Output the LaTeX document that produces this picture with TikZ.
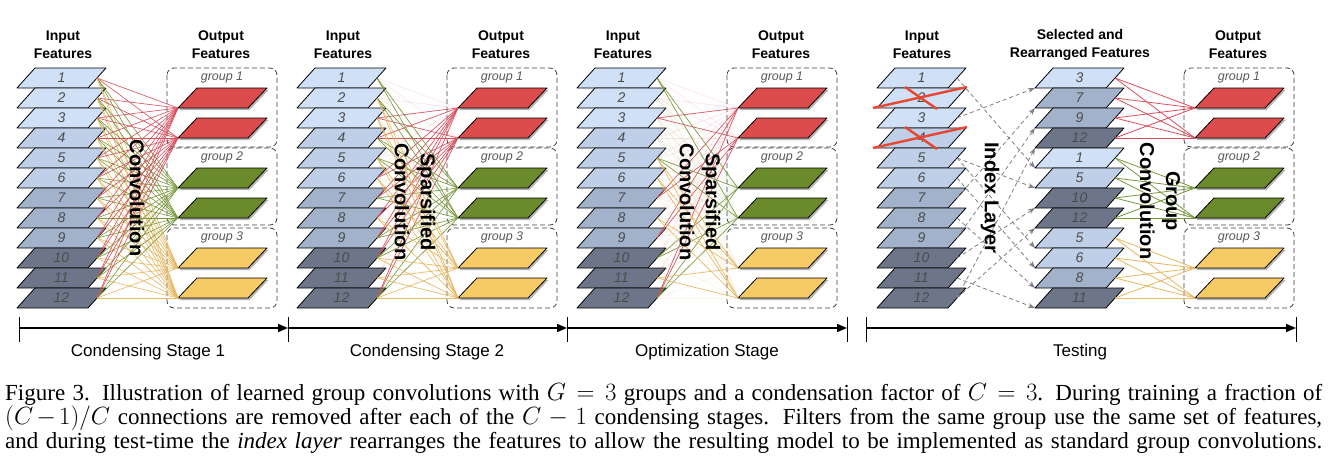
\documentclass[tikz,border=0pt]{standalone}
\usepackage{fontspec}
\setmainfont{Liberation Serif}
\setsansfont{Liberation Sans}
\usetikzlibrary{arrows.meta}
\definecolor{inA}{RGB}{208,225,247}
\definecolor{inB}{RGB}{190,207,231}
\definecolor{inC}{RGB}{162,178,202}
\definecolor{inD}{RGB}{108,118,136}
\definecolor{fR}{RGB}{220,76,76}
\definecolor{fG}{RGB}{106,138,44}
\definecolor{fY}{RGB}{246,203,102}
\definecolor{cR}{RGB}{216,78,92}
\definecolor{cG}{RGB}{120,152,60}
\definecolor{cY}{RGB}{230,184,96}
\definecolor{xR}{RGB}{232,70,48}
\tikzset{
  featlayer/.style={draw=black, line width=0.8pt, line join=round},
  shadowlayer/.style={fill=black!30},
  numlab/.style={font=\sffamily\itshape\fontsize{14}{14}\selectfont, text=black!70, inner sep=0pt},
  headtext/.style={font=\sffamily\bfseries\fontsize{14}{18}\selectfont, align=center},
  rottext/.style={font=\sffamily\bfseries\fontsize{20}{26}\selectfont, align=center, rotate=-90},
  grpbox/.style={draw=black!75, dash pattern=on 5pt off 3pt, line width=0.8pt, rounded corners=7pt},
  grplab/.style={font=\sffamily\itshape\fontsize{12.5}{12.5}\selectfont, text=black!65, inner sep=0pt},
  conn/.style={line width=0.6pt},
  gconn/.style={line width=0.8pt},
  faded/.style={line width=0.6pt, opacity=0.15},
  idxarrow/.style={draw=black!50, line width=0.8pt, dash pattern=on 4pt off 3pt, -{Stealth[length=7pt,width=5pt]}},
  tlarrow/.style={line width=1.6pt, -{Triangle[length=10pt,width=8pt]}},
  tickline/.style={line width=1pt},
  tlab/.style={font=\sffamily\fontsize{17}{17}\selectfont},
  captext/.style={font=\fontsize{23}{24}\selectfont, anchor=north west, inner sep=0pt, align=left},
}
\newcommand\inlayer[4]{%
  \pgfmathsetmacro\yb{88+(#3-1)*20}%
  \pgfmathtruncatemacro\cls{int((#4-1)/3)}%
  \ifcase\cls \def\fc{inA}\or\def\fc{inB}\or\def\fc{inC}\or\def\fc{inD}\fi
  \path[featlayer, fill=\fc] (#2+17,\yb) -- ++(71,0) -- ++(18,-20) -- ++(-71,0) -- cycle;
  \node[numlab] (#1-n) at (#2+61.5,\yb-10) {#4};
  \coordinate (#1-R) at (#2+97,\yb-10);
  \coordinate (#1-L) at (#2+17,\yb);
}
\newcommand\outlayer[4]{%
  \path[shadowlayer] (#2+179.5,#3+2) -- ++(70,0) -- ++(19,-20) -- ++(-70,0) -- cycle;
  \path[featlayer, fill=#4] (#2+178,#3) -- ++(70,0) -- ++(19,-20) -- ++(-70,0) -- cycle;
  \coordinate (#1) at (#2+178,#3);
}
\newcommand\outblock[2]{%
  \draw[grpbox] (#2+167,68) rectangle (#2+277,147);
  \draw[grpbox] (#2+167,148) rectangle (#2+277,225);
  \draw[grpbox] (#2+167,228) rectangle (#2+277,308);
  \node[grplab] (#1-g1) at (#2+222,77) {group 1};
  \node[grplab] (#1-g2) at (#2+222,157) {group 2};
  \node[grplab] (#1-g3) at (#2+222,237) {group 3};
  \outlayer{#1-out1}{#2}{108}{fR}
  \outlayer{#1-out2}{#2}{138}{fR}
  \outlayer{#1-out3}{#2}{188}{fG}
  \outlayer{#1-out4}{#2}{218}{fG}
  \outlayer{#1-out5}{#2}{268}{fY}
  \outlayer{#1-out6}{#2}{298}{fY}
}
\begin{document}
\begin{tikzpicture}[x=1pt,y=-1pt]
\useasboundingbox (0,0) rectangle (1330,472);
\fill[white] (0,0) rectangle (1330,472);
% ---------- training stages ----------
\foreach \ox/\s in {0/1,280/2,560/3}{
  \node[headtext] (s\s-hin) at (\ox+63,45) {Input\\Features};
  \node[headtext] (s\s-hout) at (\ox+221,45) {Output\\Features};
  \foreach \i in {1,...,12}{\inlayer{s\s-in\i}{\ox}{\i}{\i}}
  \outblock{s\s}{\ox}
}
% stage 1: all connections
\foreach \i in {1,...,12}{
  \foreach \j/\c in {1/cR,2/cR,3/cG,4/cG,5/cY,6/cY}{
    \draw[conn,color=\c] (s1-in\i-R) -- (s1-out\j);
  }
}
% stage 2
\foreach \i in {1,...,12}{
  \foreach \j/\c in {1/cR,2/cR,3/cG,4/cG,5/cY,6/cY}{
    \draw[faded,color=\c] (s2-in\i-R) -- (s2-out\j);
  }
}
\foreach \i in {3,4,6,7,8,9,10,12}{\foreach \j in {1,2}{\draw[conn,color=cR] (s2-in\i-R) -- (s2-out\j);}}
\foreach \i in {1,2,4,5,7,9,10,12}{\foreach \j in {3,4}{\draw[conn,color=cG] (s2-in\i-R) -- (s2-out\j);}}
\foreach \i in {2,3,5,6,8,10,11,12}{\foreach \j in {5,6}{\draw[conn,color=cY] (s2-in\i-R) -- (s2-out\j);}}
% stage 3
\foreach \i in {1,...,12}{
  \foreach \j/\c in {1/cR,2/cR,3/cG,4/cG,5/cY,6/cY}{
    \draw[faded,color=\c] (s3-in\i-R) -- (s3-out\j);
  }
}
\foreach \i in {3,7,9,12}{\foreach \j in {1,2}{\draw[conn,color=cR] (s3-in\i-R) -- (s3-out\j);}}
\foreach \i in {1,5,10,12}{\foreach \j in {3,4}{\draw[conn,color=cG] (s3-in\i-R) -- (s3-out\j);}}
\foreach \i in {5,6,8,11}{\foreach \j in {5,6}{\draw[conn,color=cY] (s3-in\i-R) -- (s3-out\j);}}
% ---------- testing ----------
\node[headtext] (t-hin) at (922,45) {Input\\Features};
\node[headtext] (t-hmid) at (1080,45) {Selected and\\Rearranged Features};
\node[headtext] (t-hout) at (1238,45) {Output\\Features};
\foreach \i in {1,...,12}{\inlayer{t-in\i}{860}{\i}{\i}}
\foreach \k/\n in {1/3,2/7,3/9,4/12,5/1,6/5,7/10,8/12,9/5,10/6,11/8,12/11}{\inlayer{mid\k}{1018}{\k}{\n}}
\outblock{t}{1017}
% crosses on removed features
\foreach \yb in {108,148}{
  \draw[xR, line width=2.4pt] (873,\yb) -- (967,\yb-21);
  \draw[xR, line width=2.4pt] (905,\yb-21) -- (937,\yb+1);
}
% index layer
\foreach \k/\n in {1/3,2/7,3/9,4/12,5/1,6/5,7/10,8/12,9/5,10/6,11/8,12/11}{
  \draw[idxarrow] (t-in\n-R) -- (mid\k-L);
}
% group convolution
\foreach \k in {1,...,4}{\foreach \j in {1,2}{\draw[gconn,color=cR] (mid\k-R) -- (t-out\j);}}
\foreach \k in {5,...,8}{\foreach \j in {3,4}{\draw[gconn,color=cG] (mid\k-R) -- (t-out\j);}}
\foreach \k in {9,...,12}{\foreach \j in {5,6}{\draw[gconn,color=cY] (mid\k-R) -- (t-out\j);}}
% rotated labels
\node[rottext] (c1) at (137,198) {Convolution};
\node[rottext] (c2) at (415,202) {Sparsified\\Convolution};
\node[rottext] (c3) at (700,202) {Sparsified\\Convolution};
\node[rottext] (il) at (990,198) {Index Layer};
\node[rottext] (gc) at (1160,201) {Group\\Convolution};
% ---------- timeline ----------
\coordinate (a0) at (19,328);
\coordinate (a1) at (288,328);
\coordinate (a2) at (567,328);
\coordinate (a3) at (847,328);
\coordinate (b0) at (866,328);
\coordinate (b1) at (1296,328);
\foreach \x in {19,288,567,847,866,1296}{\draw[tickline] (\x,317) -- (\x,342);}
\draw[tlarrow] (a0) -- (a1);
\draw[tlarrow] (a1) -- (a2);
\draw[tlarrow] (a2) -- (a3);
\draw[tlarrow] (b0) -- (b1);
\node[tlab] (l1) at (148,352) {Condensing Stage 1};
\node[tlab] (l2) at (427,352) {Condensing Stage 2};
\node[tlab] (l3) at (707,352) {Optimization Stage};
\node[tlab] (l4) at (1080,352) {Testing};
% ---------- caption ----------
\node[captext] (caption) at (5,383.5) {%
\makebox[1317pt][s]{Figure 3. Illustration of learned group convolutions with $G=3$ groups and a condensation factor of $C=3$. During training a fraction of}\\
\makebox[1317pt][s]{$(C\!-\!1)/C$ connections are removed after each of the $C-1$ condensing stages. Filters from the same group use the same set of features,}\\
\makebox[1317pt][s]{and during test-time the \textit{index layer} rearranges the features to allow the resulting model to be implemented as standard group convolutions.}};
\end{tikzpicture}
\end{document}
